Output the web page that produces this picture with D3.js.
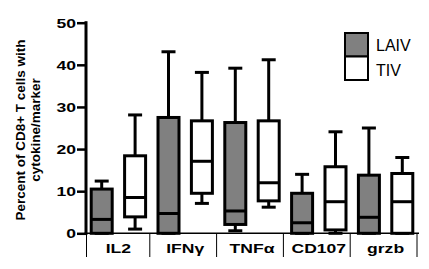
<!DOCTYPE html>
<html>
<head>
<meta charset="utf-8">
<script src="https://cdn.jsdelivr.net/npm/d3@7"></script>
<style>
  html, body { margin: 0; padding: 0; background: #fff; }
  svg { display: block; }
  text { font-family: "Liberation Sans", Arial, sans-serif; }
</style>
</head>
<body>
<svg id="chart" width="429" height="269"></svg>
<script>
const categories = ["IL2", "IFNγ", "TNFα", "CD107", "grzb"];
const series = ["LAIV", "TIV"];
const laivMin    = [0,    0,    0.6,  0,    0];
const laivQ1     = [0,    0,    2.1,  0,    0];
const laivMedian = [3.3,  4.7,  5.3,  2.5,  3.8];
const laivQ3     = [10.5, 27.5, 26.3, 9.5,  13.8];
const laivMax    = [12.4, 43.1, 39.2, 14.0, 25.0];
const tivMin     = [1.0,  7.1,  6.2,  0,    0];
const tivQ1      = [3.9,  9.5,  7.7,  0.8,  0];
const tivMedian  = [8.5,  17.1, 12.0, 7.5,  7.5];
const tivQ3      = [18.4, 26.7, 26.7, 15.8, 14.2];
const tivMax     = [28.1, 38.2, 41.2, 24.1, 18.0];
const yTicks = [0, 10, 20, 30, 40, 50];
const yTitle = ["Percent of CD8+ T cells with", "cytokine/marker"];

const fills = { LAIV: "#808080", TIV: "#ffffff" };
const stats = {
  LAIV: { min: laivMin, q1: laivQ1, med: laivMedian, q3: laivQ3, max: laivMax },
  TIV:  { min: tivMin,  q1: tivQ1,  med: tivMedian,  q3: tivQ3,  max: tivMax }
};

const svg = d3.select("#chart");
const axisX = 86, axisY = 233.3;

const y = d3.scaleLinear().domain([0, 50]).range([axisY, 22.7]);
const x = d3.scaleBand().domain(categories).range([85, 419]).padding(0);
const xs = d3.scaleBand().domain(series).range([0, x.bandwidth()]).padding(0);

const boxW = 21, capW = 14;

const rows = [];
categories.forEach((c, i) => {
  series.forEach(s => {
    const st = stats[s];
    rows.push({ c, s, cx: x(c) + xs(s) + xs.bandwidth() / 2,
      min: st.min[i], q1: st.q1[i], med: st.med[i], q3: st.q3[i], max: st.max[i] });
  });
});

const g = svg.append("g");
const boxes = g.selectAll("g.box").data(rows).join("g").attr("class", "box");

// whiskers
boxes.append("line")
  .attr("x1", d => d.cx).attr("x2", d => d.cx)
  .attr("y1", d => y(d.max)).attr("y2", d => y(d.q3))
  .attr("stroke", "#000").attr("stroke-width", 3);
boxes.append("line")
  .attr("x1", d => d.cx - capW / 2).attr("x2", d => d.cx + capW / 2)
  .attr("y1", d => y(d.max)).attr("y2", d => y(d.max))
  .attr("stroke", "#000").attr("stroke-width", 3);
boxes.append("line")
  .attr("x1", d => d.cx).attr("x2", d => d.cx)
  .attr("y1", d => y(d.q1)).attr("y2", d => y(d.min))
  .attr("stroke", "#000").attr("stroke-width", 3);
boxes.append("line")
  .attr("x1", d => d.cx - capW / 2).attr("x2", d => d.cx + capW / 2)
  .attr("y1", d => y(d.min)).attr("y2", d => y(d.min))
  .attr("stroke", "#000").attr("stroke-width", 3);
// box
boxes.append("rect")
  .attr("x", d => d.cx - boxW / 2).attr("width", boxW)
  .attr("y", d => y(d.q3)).attr("height", d => y(d.q1) - y(d.q3))
  .attr("fill", d => fills[d.s]).attr("stroke", "#000").attr("stroke-width", 3);
// median
boxes.append("line")
  .attr("x1", d => d.cx - boxW / 2).attr("x2", d => d.cx + boxW / 2)
  .attr("y1", d => y(d.med)).attr("y2", d => y(d.med))
  .attr("stroke", "#000").attr("stroke-width", 3);

// Y axis
const yAxis = svg.append("g").attr("transform", `translate(${axisX},0)`)
  .call(d3.axisLeft(y).tickValues(yTicks).tickSize(9).tickPadding(0).tickFormat(d3.format("d")));
yAxis.select(".domain").attr("d", `M0,${y(50) - 1.5}V${axisY + 1.5}`).attr("stroke", "#000").attr("stroke-width", 3);
yAxis.selectAll(".tick line").attr("stroke", "#000").attr("stroke-width", 2.5);
yAxis.selectAll(".tick text").remove();
yAxis.selectAll(".tick").append("text")
  .attr("transform", "translate(-10,0) scale(1.35,1)")
  .attr("text-anchor", "end").attr("dy", "0.36em")
  .attr("fill", "#000").attr("font-size", 13).attr("font-weight", "bold")
  .style("font-family", "'Liberation Sans', Arial, sans-serif")
  .text(d => d);

// X axis
svg.append("line").attr("x1", axisX - 1.5).attr("x2", x.range()[1])
  .attr("y1", axisY).attr("y2", axisY).attr("stroke", "#000").attr("stroke-width", 1.5);
const seps = [axisX + 0.5].concat(categories.map(c => x(c) + x.bandwidth()).map(v => v - 2));
svg.selectAll("line.sep").data(seps).join("line").attr("class", "sep")
  .attr("x1", d => d).attr("x2", d => d).attr("y1", axisY).attr("y2", 257)
  .attr("stroke", "#000").attr("stroke-width", 1);
svg.selectAll("text.xl").data(categories).join("text").attr("class", "xl")
  .attr("transform", d => `translate(${x(d) + x.bandwidth() / 2},252.7) scale(1.35,1)`)
  .attr("text-anchor", "middle").attr("font-size", 13).attr("font-weight", "bold")
  .text(d => d);

// Y title
const yt = svg.append("g").attr("transform", "translate(0,130) rotate(-90)");
yt.selectAll("text").data(yTitle).join("text")
  .attr("x", 0).attr("y", (d, i) => 25 + i * 15)
  .attr("text-anchor", "middle").attr("font-size", 13.5).attr("font-weight", "bold")
  .text(d => d);

// Legend
const leg = svg.append("g");
series.forEach((s, i) => {
  leg.append("rect").attr("x", 345).attr("y", 33 + i * 23.5).attr("width", 23).attr("height", 23.5)
    .attr("fill", fills[s]).attr("stroke", "#000").attr("stroke-width", 2);
  leg.append("text").attr("x", 376).attr("y", 50.7 + i * 25.3)
    .attr("font-size", 16).attr("fill", "#000").text(s);
});
</script>
</body>
</html>
